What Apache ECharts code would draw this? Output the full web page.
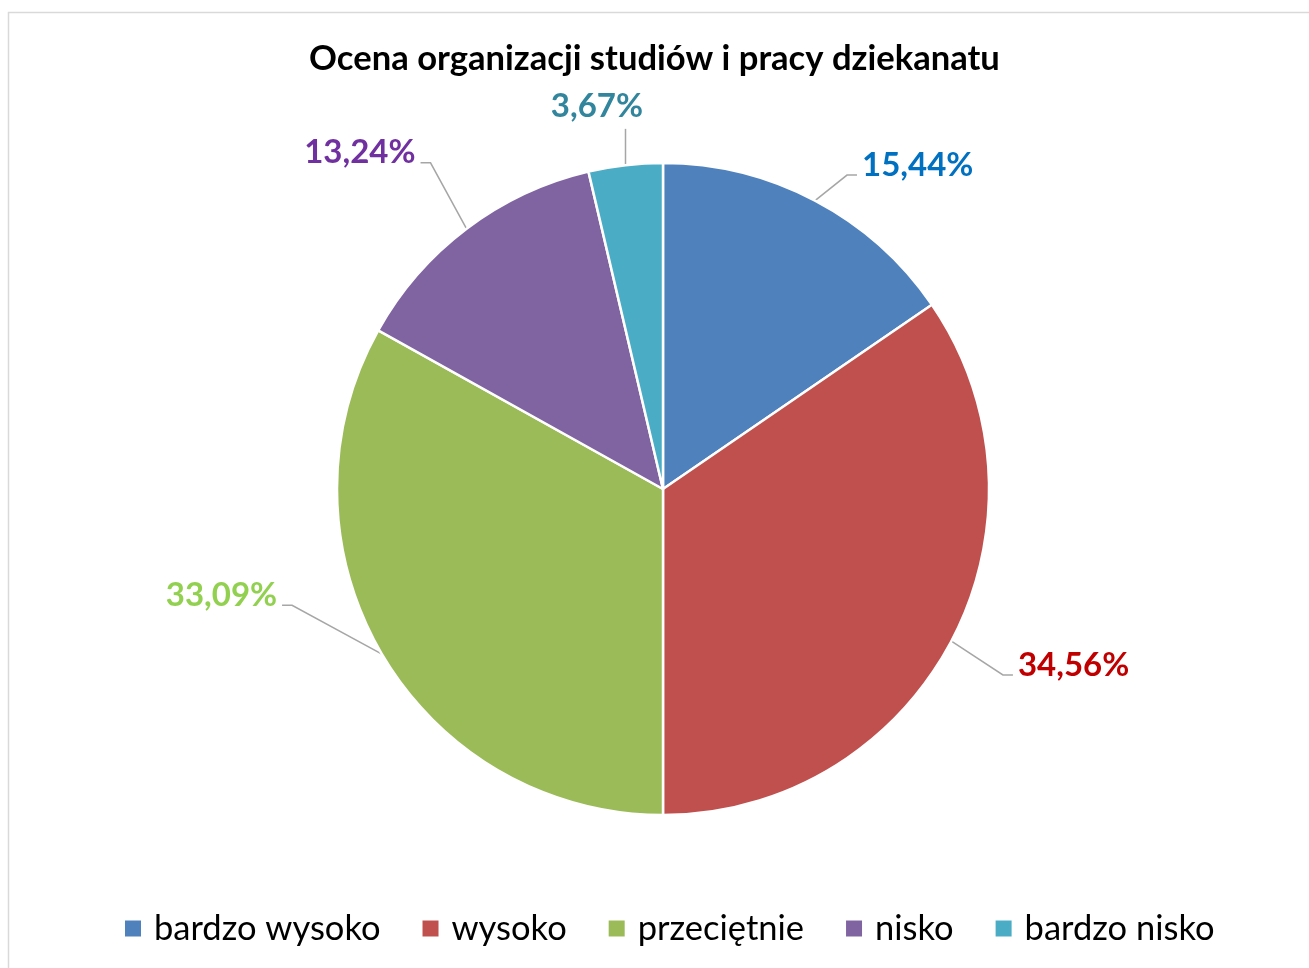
<!DOCTYPE html>
<html>
<head>
<meta charset="utf-8">
<style>
  html, body { margin: 0; padding: 0; background: #fff; }
  #chart { width: 1309px; height: 968px; }
</style>
<script src="https://cdn.jsdelivr.net/npm/echarts@6/dist/echarts.min.js"></script>
</head>
<body>
<div id="chart"></div>
<script>
// dane z wykresu
const categories = ['bardzo wysoko', 'wysoko', 'przeciętnie', 'nisko', 'bardzo nisko'];
const values = [15.44, 34.56, 33.09, 13.24, 3.67];
const sliceColors = ['#4F81BD', '#C0504D', '#9BBB59', '#8064A2', '#4BACC6'];
const labelColors = ['#0070C0', '#C00000', '#92D050', '#7030A0', '#31859C'];
// przesunięcia etykiet względem domyślnej pozycji (dx, dy) i sposób prowadzenia linii
const labelShift = [[8, -9], [15, 10], [-54, -74], [-8, -52], [46, -29]];
const lineMode = ['right', 'right', 'left', 'left', 'up'];

const chart = echarts.init(document.getElementById('chart'));

const pieData = values.map((v, i) => ({
  name: categories[i],
  value: v,
  itemStyle: { color: sliceColors[i] },
  label: { color: labelColors[i] }
}));

function moveLabel(p) {
  const i = p.dataIndex;
  const [dx, dy] = labelShift[i];
  const r = p.labelRect;
  const start = p.labelLinePoints[0];
  const cy = r.y + r.height / 2 + dy;
  let pts;
  if (lineMode[i] === 'right') {
    const end = [r.x + dx - 5, cy + 10];
    pts = [start, [end[0] - 10, end[1]], end];
  } else if (lineMode[i] === 'left') {
    const end = [r.x + r.width + dx + 5, cy + 10];
    pts = [start, [end[0] + 10, end[1]], end];
  } else {
    const end = [start[0], r.y + r.height + dy + 6];
    pts = [start, end, end];
  }
  return { dx: dx, dy: dy, labelLinePoints: pts };
}

chart.setOption({
  backgroundColor: '#fff',
  animation: false,
  graphic: [{
    type: 'rect',
    shape: { x: 8.5, y: 12.5, width: 1400, height: 1000 },
    style: { fill: 'none', stroke: '#d9d9d9', lineWidth: 1.5 },
    silent: true
  }],
  title: {
    text: 'Ocena organizacji studiów i pracy dziekanatu',
    left: 'center',
    top: 36,
    textStyle: { fontFamily: 'Lato', fontWeight: 'bold', fontSize: 34.6, color: '#000' }
  },
  legend: {
    data: categories,
    top: 906,
    left: 120,
    itemWidth: 16,
    itemHeight: 16,
    itemGap: 42,
    icon: 'rect',
    itemStyle: { borderWidth: 0 },
    textStyle: { fontFamily: 'Lato', fontSize: 34.5, lineHeight: 34, color: '#000', padding: [0, 0, 0, 8] }
  },
  series: [{
    type: 'pie',
    center: [663, 489],
    radius: 326,
    startAngle: 90,
    clockwise: true,
    avoidLabelOverlap: false,
    itemStyle: { borderColor: '#fff', borderWidth: 2.5 },
    label: {
      show: true,
      fontFamily: 'Lato',
      fontWeight: 'bold',
      fontSize: 33,
      distanceToLabelLine: 5,
      formatter: p => p.value.toFixed(2).replace('.', ',') + '%'
    },
    labelLine: {
      show: true,
      length: 30,
      length2: 20,
      lineStyle: { color: '#a6a6a6', width: 1.5 }
    },
    labelLayout: moveLabel,
    data: pieData
  }]
});
</script>
</body>
</html>
